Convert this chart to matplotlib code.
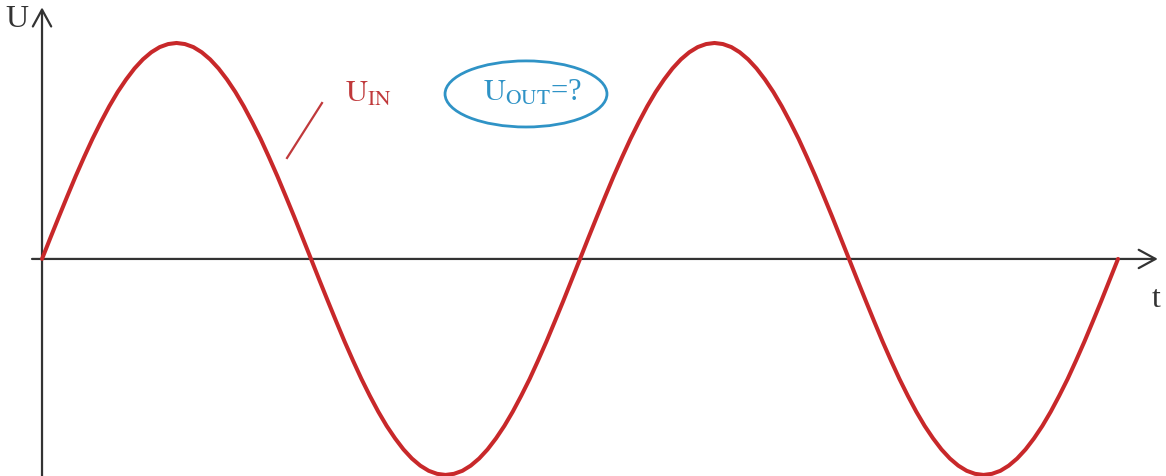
import matplotlib.pyplot as plt
from matplotlib.patches import Ellipse

plt.rcParams["font.family"] = ["Liberation Serif", "DejaVu Serif"]
plt.rcParams["mathtext.fontset"] = "stix"

# Input voltage sampled every 1/64 of a period (time in periods, U in amplitude units)
t_in = [
    0.0, 0.0156, 0.0313, 0.0469, 0.0625, 0.0781, 0.0938, 0.1094,
    0.125, 0.1406, 0.1563, 0.1719, 0.1875, 0.2031, 0.2188, 0.2344,
    0.25, 0.2656, 0.2813, 0.2969, 0.3125, 0.3281, 0.3438, 0.3594,
    0.375, 0.3906, 0.4063, 0.4219, 0.4375, 0.4531, 0.4688, 0.4844,
    0.5, 0.5156, 0.5313, 0.5469, 0.5625, 0.5781, 0.5938, 0.6094,
    0.625, 0.6406, 0.6563, 0.6719, 0.6875, 0.7031, 0.7188, 0.7344,
    0.75, 0.7656, 0.7813, 0.7969, 0.8125, 0.8281, 0.8438, 0.8594,
    0.875, 0.8906, 0.9063, 0.9219, 0.9375, 0.9531, 0.9688, 0.9844,
    1.0, 1.0156, 1.0313, 1.0469, 1.0625, 1.0781, 1.0938, 1.1094,
    1.125, 1.1406, 1.1563, 1.1719, 1.1875, 1.2031, 1.2188, 1.2344,
    1.25, 1.2656, 1.2813, 1.2969, 1.3125, 1.3281, 1.3438, 1.3594,
    1.375, 1.3906, 1.4063, 1.4219, 1.4375, 1.4531, 1.4688, 1.4844,
    1.5, 1.5156, 1.5313, 1.5469, 1.5625, 1.5781, 1.5938, 1.6094,
    1.625, 1.6406, 1.6563, 1.6719, 1.6875, 1.7031, 1.7188, 1.7344,
    1.75, 1.7656, 1.7813, 1.7969, 1.8125, 1.8281, 1.8438, 1.8594,
    1.875, 1.8906, 1.9063, 1.9219, 1.9375, 1.9531, 1.9688, 1.9844,
    2.0,
]
u_in = [
    0.0, 0.098, 0.195, 0.290, 0.383, 0.471, 0.556, 0.634,
    0.707, 0.773, 0.831, 0.882, 0.924, 0.957, 0.981, 0.995,
    1.0, 0.995, 0.981, 0.957, 0.924, 0.882, 0.831, 0.773,
    0.707, 0.634, 0.556, 0.471, 0.383, 0.290, 0.195, 0.098,
    0.0, -0.098, -0.195, -0.290, -0.383, -0.471, -0.556, -0.634,
    -0.707, -0.773, -0.831, -0.882, -0.924, -0.957, -0.981, -0.995,
    -1.0, -0.995, -0.981, -0.957, -0.924, -0.882, -0.831, -0.773,
    -0.707, -0.634, -0.556, -0.471, -0.383, -0.290, -0.195, -0.098,
    0.0, 0.098, 0.195, 0.290, 0.383, 0.471, 0.556, 0.634,
    0.707, 0.773, 0.831, 0.882, 0.924, 0.957, 0.981, 0.995,
    1.0, 0.995, 0.981, 0.957, 0.924, 0.882, 0.831, 0.773,
    0.707, 0.634, 0.556, 0.471, 0.383, 0.290, 0.195, 0.098,
    0.0, -0.098, -0.195, -0.290, -0.383, -0.471, -0.556, -0.634,
    -0.707, -0.773, -0.831, -0.882, -0.924, -0.957, -0.981, -0.995,
    -1.0, -0.995, -0.981, -0.957, -0.924, -0.882, -0.831, -0.773,
    -0.707, -0.634, -0.556, -0.471, -0.383, -0.290, -0.195, -0.098,
    0.0,
]

red = "#c8282a"
label_red = "#c0393b"
blue = "#2f93c6"
axis_col = "#333333"

fig = plt.figure(figsize=(11.66, 4.76), dpi=100)
ax = fig.add_axes([0, 0, 1, 1])
ax.set_xlim(-0.0781, 2.0892)
ax.set_ylim(-1.005, 1.199)
ax.axis("off")

# Axes with open arrow heads
arrow = dict(arrowstyle="->,head_length=0.55,head_width=0.3", color=axis_col,
             lw=1.6, mutation_scale=22, shrinkA=0, shrinkB=0)
ax.annotate("", xy=(2.074, 0), xytext=(-0.0186, 0), arrowprops=arrow)
ax.annotate("", xy=(0, 1.165), xytext=(0, -1.01), arrowprops=arrow)

ax.text(-0.0688, 1.074, "U", fontsize=23, color=axis_col, ha="left", va="baseline")
ax.text(2.0706, -0.222, "t", fontsize=23, color=axis_col, ha="center", va="baseline")

# Input signal
ax.plot(t_in, u_in, color=red, lw=2.9, solid_joinstyle="round",
        solid_capstyle="round", zorder=3)

# Label with pointer
ax.plot([0.5204, 0.4554], [0.722, 0.4676], color=label_red, lw=1.6)
ax.text(0.563, 0.727, r"$\mathrm{U_{IN}}$", fontsize=22, color=label_red,
        ha="left", va="baseline")

# Unknown output in an ellipse
ax.add_patch(Ellipse((0.8996, 0.764), 0.301, 0.306, fill=False,
                     edgecolor=blue, lw=2.0))
ax.text(0.8197, 0.731, r"$\mathrm{U_{OUT}}$=?", fontsize=22, color=blue,
        ha="left", va="baseline")

fig.savefig("out.png", dpi=100)
